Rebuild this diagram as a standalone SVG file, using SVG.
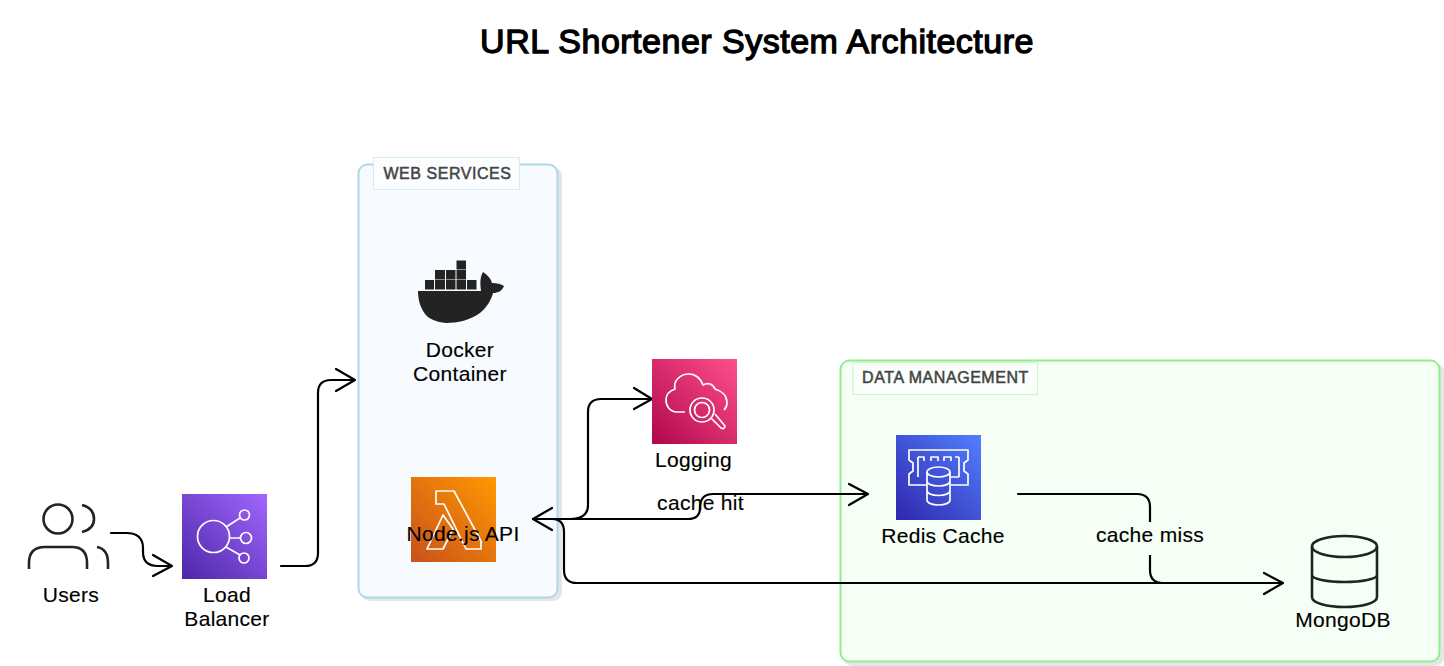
<svg xmlns="http://www.w3.org/2000/svg" width="1444" height="666" viewBox="0 0 1444 666">
<style>
text{font-family:"Liberation Sans",Arial,sans-serif;fill:#000;text-anchor:middle}
.t{font-size:21px;letter-spacing:.3px;stroke:#000;stroke-width:.15px}
.title{font-size:34px;letter-spacing:.5px;stroke:#000;stroke-width:1.3px}
.gl{font-size:16px;letter-spacing:.55px;fill:#444;stroke:#444;stroke-width:.5px}
.c{fill:none;stroke:#000;stroke-width:2.2px;stroke-linecap:round;stroke-linejoin:round}
.w{fill:none;stroke:#fff;stroke-width:1.7px;stroke-linejoin:round}
.k{fill:none;stroke:#232323;stroke-width:2.6px}
.shadow{fill:#e6e6e6}
</style>
<defs>
<linearGradient id="gP" x1="0" y1="1" x2="1" y2="0"><stop offset="0" stop-color="#4d27a8"/><stop offset="1" stop-color="#a166ff"/></linearGradient>
<linearGradient id="gO" x1="0" y1="1" x2="1" y2="0"><stop offset="0" stop-color="#c8511b"/><stop offset="1" stop-color="#ff9900"/></linearGradient>
<linearGradient id="gR" x1="0" y1="1" x2="1" y2="0"><stop offset="0" stop-color="#b0084d"/><stop offset="1" stop-color="#ff4f8b"/></linearGradient>
<linearGradient id="gB" x1="0" y1="1" x2="1" y2="0"><stop offset="0" stop-color="#2e27ad"/><stop offset="1" stop-color="#527fff"/></linearGradient>
</defs>
<rect width="1444" height="666" fill="#fff"/>
<text class="title" x="757" y="53">URL Shortener System Architecture</text>

<g id="group-web">
<rect class="shadow" x="361" y="167" width="201" height="434" rx="9"/>
<rect x="358.500" y="164.500" width="199" height="433" rx="9" fill="#f7fbff" stroke="#add8e6" stroke-width="2"/>
<rect x="373.500" y="157.500" width="146" height="32" fill="#fbfdfe" stroke="#d6ecf3"/>
<text class="gl" x="447.500" y="179">WEB SERVICES</text>
</g>
<g id="group-data">
<rect class="shadow" x="843" y="363" width="601" height="303" rx="9"/>
<rect x="840.500" y="360.500" width="599" height="301" rx="9" fill="#f5fff5" stroke="#90ee90" stroke-width="2"/>
<rect x="853" y="362.500" width="184.500" height="32" fill="#fbfffb" stroke="#c8f6c8"/>
<text class="gl" x="945.500" y="383">DATA MANAGEMENT</text>
</g>

<g id="connectors">
<path class="c" d="M111 533H126Q143 533 143 548V552Q143 566 158 566H172M153 555L172 566L153 576"/>
<path class="c" d="M281 566H305Q318 566 318 553V393Q318 380 331 380H355M336 369L355 380L336 391"/>
<path class="c" d="M533 519H570Q588 519 588 505V412Q588 399 601 399H651M634 388L652 399L634 409"/>
<path class="c" d="M533 519H688Q700 519 700 508V506Q701 494 713 494H867M849 484L868 494L849 505"/>
<path class="c" d="M533 519H552Q564 519 564 532V570Q564 583 577 583H1282M1264 573L1283 583L1264 594"/>
<path class="c" d="M1018 494H1137Q1150 494 1150 507V570Q1150 583 1163 583H1282"/>
<path class="c" d="M552 508L533 519L552 530"/>
<rect x="1095" y="522" width="110" height="33" fill="#f5fff5"/>
<text class="t" x="700.500" y="510">cache hit</text>
<text class="t" x="1150" y="542">cache miss</text>
</g>

<g id="users">
<circle class="k" cx="58" cy="519" r="14.500"/>
<path class="k" d="M82 505Q94 508 94 519Q94 529 82 532M29 569V563Q29 547 45 547H72Q87 547 87 563V569M97 547Q108 549 108 563V569"/>
<text class="t" x="71" y="602">Users</text>
</g>
<g id="load-balancer">
<rect x="182" y="494" width="85" height="85" fill="url(#gP)"/>
<circle class="w" cx="213.500" cy="536.500" r="16"/>
<circle class="w" cx="244.500" cy="515" r="5"/>
<circle class="w" cx="246" cy="538" r="5.500"/>
<circle class="w" cx="244" cy="558" r="5"/>
<path class="w" d="M226 527L240 518M230 538H240M226 547L240 555"/>
<text class="t" x="227" y="602">Load</text>
<text class="t" x="227" y="626">Balancer</text>
</g>
<g id="docker">
<path fill="#232323" d="M425 280h9v9.500h-9zM435 280h10v9.500h-10zM446 280h9.500v9.500h-9.500zM456.500 280h9.500v9.500h-9.500zM467 280h9.500v9.500h-9.500zM435 270h10v9.500h-10zM446 270h9.500v9.500h-9.500zM456.500 270h9.500v9.500h-9.500zM456.500 260.500h9.500v9h-9.500z"/>
<path fill="#232323" d="M418 291H481C480 283 480 277 483 272C488 275 491 279 492 283C497 283 501 284 504 286C502 291 498 293 493 293C491 301 486 308 480 313C470 320 458 323 446 323C436 322 429 319 425 314C420 307 418 299 418 291Z"/>
<text class="t" x="460" y="357">Docker</text>
<text class="t" x="460" y="381">Container</text>
</g>
<g id="nodejs-api">
<rect x="411" y="477" width="85" height="85" fill="url(#gO)"/>
<path class="w" d="M436 491H454L481 541V549H466L444 504H436ZM443 515L427 549H443L453 529Z"/>
<text class="t" x="463" y="541">Node.js API</text>
</g>
<g id="logging">
<rect x="652" y="359" width="85" height="85" fill="url(#gR)"/>
<path class="w" d="M685 412H677C670 412 666 406 666 400C666 395 669 391 675 389C673 381 680 374 689 374C696 374 701 379 703 385C708 382 713 384 715 389C722 391 727 396 727 403C727 406 726 408 724 410"/>
<circle class="w" cx="702" cy="410" r="12"/>
<circle class="w" cx="702" cy="410" r="7.500"/>
<path class="w" d="M711 418L721 428Q724 430 725 426L715 414"/>
<text class="t" x="693.500" y="467">Logging</text>
</g>
<g id="redis-cache">
<rect x="896" y="435" width="85" height="85" fill="url(#gB)"/>
<path class="w" d="M926 485H909V474L913 471V463L909 460V450H968V460L964 463V471L968 474V485H951M918 477V457M959 477V457M918 485H926M951 477H959M918 457H924V461M931 461V457H938V461M944 461V457H951V461M955 457H959"/>
<ellipse class="w" cx="938.500" cy="472" rx="11.500" ry="5"/>
<path class="w" d="M927 472V500C927 503 932 505 938.500 505C945 505 950 503 950 500V472M927 481C927 484 932 486 938.500 486C945 486 950 484 950 481M927 490.500C927 493.500 932 495.500 938.500 495.500C945 495.500 950 493.500 950 490.500"/>
<text class="t" x="943" y="543">Redis Cache</text>
</g>
<g id="mongodb">
<ellipse class="k" cx="1344.500" cy="546.500" rx="32.500" ry="10.500"/>
<path class="k" d="M1312 546.500V597C1312 603 1327 607 1344.500 607C1362 607 1377 603 1377 597V546.500M1312 575C1312 579 1327 582 1344.500 582C1362 582 1377 579 1377 575"/>
<text class="t" x="1343" y="627">MongoDB</text>
</g>
</svg>
